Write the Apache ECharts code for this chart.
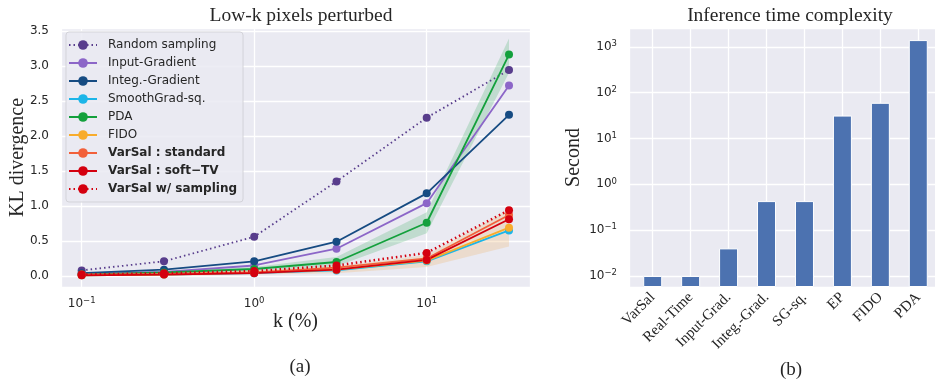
<!DOCTYPE html>
<html>
<head>
<meta charset="utf-8">
<script src="https://cdn.jsdelivr.net/npm/echarts@6/dist/echarts.min.js"></script>
<style>
  html, body { margin: 0; padding: 0; background: #fff; }
  #content { width: 935px; height: 379px; }
</style>
</head>
<body>
<div id="content"></div>
<script>
// ---- data ----
var kValues = [0.1, 0.3, 1, 3, 10, 30];
var randomSampling = [0.08, 0.21, 0.56, 1.35, 2.26, 2.94];
var inputGradient = [0.03, 0.06, 0.15, 0.39, 1.04, 2.72];
var integGradient = [0.04, 0.09, 0.21, 0.49, 1.18, 2.30];
var smoothGradSq = [0.01, 0.02, 0.04, 0.08, 0.21, 0.65];
var pda = [0.02, 0.05, 0.10, 0.20, 0.76, 3.16];
var pdaLow = [0.01, 0.03, 0.07, 0.14, 0.61, 2.90];
var pdaHigh = [0.03, 0.07, 0.13, 0.27, 0.91, 3.39];
var fido = [0.01, 0.02, 0.05, 0.09, 0.22, 0.69];
var fidoLow = [0.00, 0.00, 0.02, 0.04, 0.13, 0.42];
var fidoHigh = [0.02, 0.04, 0.08, 0.14, 0.30, 0.95];
var varsalStandard = [0.02, 0.03, 0.05, 0.12, 0.25, 0.87];
var varsalSoftTV = [0.01, 0.02, 0.04, 0.09, 0.23, 0.81];
var varsalSampling = [0.02, 0.04, 0.07, 0.15, 0.33, 0.94];

var methods = ['VarSal', 'Real-Time', 'Input-Grad.', 'Integ.-Grad.', 'SG-sq.', 'EP', 'FIDO', 'PDA'];
var seconds = [0.01, 0.01, 0.04, 0.43, 0.43, 31.6, 60, 1400];

var chart = echarts.init(document.getElementById('content'));

function pairs(ys) {
    return kValues.map(function (k, i) { return [k, ys[i]]; });
}
// 10^n labels with superscript
function powLabel(v) {
    var e = Math.round(Math.log10(v));
    return '10{sup|' + (e < 0 ? '\u2212' + (-e) : e) + '}';
}
var tickFont = { color: '#262626', fontSize: 12, fontFamily: 'DejaVu Sans' };
var supRich = { sup: { fontSize: 8.5, fontFamily: 'DejaVu Sans', color: '#262626', verticalAlign: 'top', padding: [0, 0, 6, 0] } };
var serif = 'Liberation Serif';

function lineSeries(name, data, color, dotted, width) {
    return {
        name: name, type: 'line', xAxisIndex: 0, yAxisIndex: 0,
        data: pairs(data), symbol: 'circle', symbolSize: 8,
        itemStyle: { color: color },
        lineStyle: { color: color, width: width || 1.8, type: dotted ? [1.5, 3] : 'solid' },
        z: 3
    };
}
// shaded confidence band between two lists, drawn through the axes
function bandSeries(lo, hi, color) {
    return {
        type: 'custom', xAxisIndex: 0, yAxisIndex: 0, silent: true, z: 1,
        data: [[1, 1]],
        renderItem: function (params, api) {
            var pts = kValues.map(function (k, i) { return api.coord([k, hi[i]]); });
            for (var i = kValues.length - 1; i >= 0; i--) pts.push(api.coord([kValues[i], lo[i]]));
            return { type: 'polygon', shape: { points: pts }, style: { fill: color } };
        }
    };
}

var legendNames = ['Random sampling', 'Input-Gradient', 'Integ.-Gradient', 'SmoothGrad-sq.', 'PDA', 'FIDO',
    'VarSal : standard', 'VarSal : soft\u2212TV', 'VarSal w/ sampling'];

var option = {
    animation: false,
    title: [
        { text: 'Low-k pixels perturbed', left: 296, top: 1, textAlign: 'center',
          textStyle: { fontFamily: serif, fontSize: 19.5, fontWeight: 'normal', color: '#262626' } },
        { text: 'Inference time complexity', left: 785, top: 1, textAlign: 'center',
          textStyle: { fontFamily: serif, fontSize: 19.5, fontWeight: 'normal', color: '#262626' } },
        { text: '(a)', left: 295, top: 353, textAlign: 'center',
          textStyle: { fontFamily: serif, fontSize: 19, fontWeight: 'normal', color: '#262626' } },
        { text: '(b)', left: 786, top: 356, textAlign: 'center',
          textStyle: { fontFamily: serif, fontSize: 19, fontWeight: 'normal', color: '#262626' } }
    ],
    legend: {
        left: 66, top: 32, orient: 'vertical',
        data: legendNames.map(function (n, i) {
            return i >= 6 ? { name: n, textStyle: { fontWeight: 'bold' } } : { name: n };
        }),
        itemWidth: 28, itemHeight: 12, itemGap: 6,
        padding: [7, 6, 7, 2],
        backgroundColor: 'rgba(234,234,242,0.85)',
        borderColor: '#d3d3d9', borderWidth: 1, borderRadius: 3,
        textStyle: { fontFamily: 'DejaVu Sans', fontSize: 12, color: '#262626', padding: [0, 0, 0, 6] }
    },
    grid: [
        { left: 61, top: 28, width: 469, height: 259, show: true, backgroundColor: '#EAEAF2', borderWidth: 0,
          containLabel: false, outerBoundsMode: 'none' },
        { left: 629, top: 28, width: 313, height: 259, show: true, backgroundColor: '#EAEAF2', borderWidth: 0,
          containLabel: false, outerBoundsMode: 'none' }
    ],
    xAxis: [
        { type: 'log', gridIndex: 0, min: 0.0759, max: 39.7,
          name: 'k (%)', nameLocation: 'middle', nameGap: 25, nameMoveOverlap: false,
          nameTextStyle: { fontFamily: serif, fontSize: 20, color: '#262626' },
          axisLine: { show: false }, axisTick: { show: false }, minorTick: { show: false },
          axisLabel: Object.assign({ margin: 9, showMinLabel: false, showMaxLabel: false,
              formatter: powLabel, rich: supRich }, tickFont),
          splitLine: { show: true, lineStyle: { color: '#fff', width: 1.3 } } },
        { type: 'value', gridIndex: 1, min: -0.625, max: 7.625, splitNumber: 8,
          axisLine: { show: false }, axisTick: { show: false },
          axisLabel: { margin: 8, rotate: 45, showMinLabel: false, showMaxLabel: false,
              fontFamily: serif, fontSize: 15, color: '#262626',
              formatter: function (v) { return methods[Math.round(v)] || ''; } },
          splitLine: { show: true, lineStyle: { color: '#fff', width: 1.3 } } }
    ],
    yAxis: [
        { type: 'value', gridIndex: 0, min: -0.157, max: 3.54, splitNumber: 7,
          name: 'KL divergence', nameLocation: 'middle', nameGap: 33, nameMoveOverlap: false,
          nameTextStyle: { fontFamily: serif, fontSize: 20, color: '#262626' },
          axisLine: { show: false }, axisTick: { show: false },
          axisLabel: Object.assign({ margin: 12, showMinLabel: false, showMaxLabel: false,
              formatter: function (v) { return v.toFixed(1); } }, tickFont),
          splitLine: { show: true, lineStyle: { color: '#fff', width: 1.3 } } },
        { type: 'log', gridIndex: 1, min: 0.00575, max: 2570, startValue: 0.00575,
          name: 'Second', nameLocation: 'middle', nameGap: 45, nameMoveOverlap: false,
          nameTextStyle: { fontFamily: serif, fontSize: 20, color: '#262626' },
          axisLine: { show: false }, axisTick: { show: false }, minorTick: { show: false },
          axisLabel: Object.assign({ margin: 12, showMinLabel: false, showMaxLabel: false,
              formatter: powLabel, rich: supRich }, tickFont),
          splitLine: { show: true, lineStyle: { color: '#fff', width: 1.3 } } }
    ],
    series: [
        bandSeries(pdaLow, pdaHigh, 'rgba(26,160,70,0.2)'),
        bandSeries(fidoLow, fidoHigh, 'rgba(240,185,120,0.3)'),
        lineSeries('Random sampling', randomSampling, '#583d8c', true),
        lineSeries('Input-Gradient', inputGradient, '#8c66c8'),
        lineSeries('Integ.-Gradient', integGradient, '#164b82'),
        lineSeries('SmoothGrad-sq.', smoothGradSq, '#1cb5e8'),
        lineSeries('PDA', pda, '#13a03c'),
        lineSeries('FIDO', fido, '#f8ac2c'),
        lineSeries('VarSal : standard', varsalStandard, '#f2603a'),
        lineSeries('VarSal : soft\u2212TV', varsalSoftTV, '#d4000f'),
        lineSeries('VarSal w/ sampling', varsalSampling, '#d4000f', true, 2.5),
        {
            type: 'bar', xAxisIndex: 1, yAxisIndex: 1,
            data: methods.map(function (m, i) { return [i, seconds[i]]; }),
            barWidth: 19,
            itemStyle: { color: '#4c72b0', borderColor: '#fff', borderWidth: 1 }
        }
    ]
};

chart.setOption(option);
</script>
</body>
</html>
